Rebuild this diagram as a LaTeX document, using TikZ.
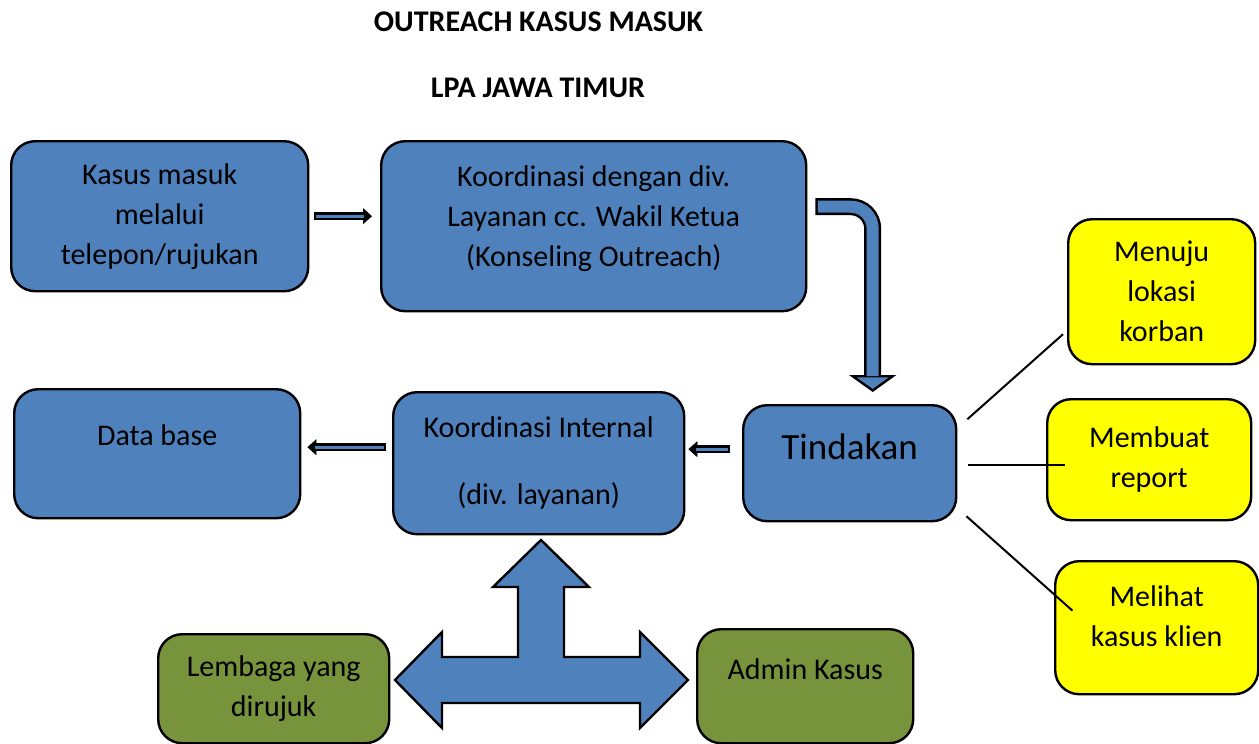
\documentclass[tikz,border=0pt]{standalone}
\usepackage{fontspec}
\setmainfont{Carlito}
\usetikzlibrary{arrows.meta}
\definecolor{boxblue}{HTML}{4F81BD}
\definecolor{boxgreen}{HTML}{77933C}
\definecolor{boxyellow}{HTML}{FFFF00}

\begin{document}
\begin{tikzpicture}[
  x=0.5pt, y=-0.5pt,
  box/.style={draw,line width=1.2pt,rounded corners=12pt,align=center,
              anchor=north west,inner sep=4pt,font=\fontsize{15}{20}\selectfont},
  bluebox/.style={box,fill=boxblue},
  greenbox/.style={box,fill=boxgreen},
  yellowbox/.style={box,fill=boxyellow},
  heading/.style={font=\bfseries\fontsize{15}{18}\selectfont},
  thinarrow/.style={draw=black,line width=3.8pt,
              -{Triangle[length=4.5pt,width=8pt,line width=0.4pt]},
              postaction={draw=boxblue,line width=1.6pt,-,shorten <=1pt,shorten >=4pt}},
  bentarrow/.style={draw=black,line width=8.5pt,rounded corners=11pt,
              -{Triangle[length=8.5pt,width=23.5pt,fill=boxblue,line width=1.2pt]},
              postaction={draw=boxblue,line width=6pt,-,shorten <=1.2pt,shorten >=8pt}},
  bigarrow/.style={draw,fill=boxblue,line width=1.2pt,line join=miter},
  link/.style={draw,line width=1pt}
]
  \useasboundingbox (0,0) rectangle (1259,744);

  \node[heading] (judul) at (538.5,22) {OUTREACH KASUS MASUK};
  \node[heading] (lpa) at (538,88) {LPA JAWA TIMUR};

  \node[bluebox,minimum width=148.5pt,minimum height=75pt] (kasus) at (10,140)
    {Kasus masuk\\melalui\\telepon/rujukan};
  \node[bluebox,minimum width=212.5pt,minimum height=85pt,text depth=10pt] (koord) at (380,140)
    {Koordinasi dengan div.\\Layanan cc. Wakil Ketua\\(Konseling Outreach)};
  \node[bluebox,minimum width=143pt,text height=24pt,text depth=32.5pt] (db) at (13,388)
    {Data base};
  \node[bluebox,minimum width=145.5pt,minimum height=71pt] (intern) at (392,391)
    {Koordinasi Internal\\[13.5pt](div. layanan)};
  \node[bluebox,minimum width=106.5pt,text height=23pt,text depth=27pt,
        font=\fontsize{18.5}{22}\selectfont] (tindak) at (742,404) {Tindakan};

  \node[yellowbox,minimum width=93.5pt,minimum height=72.5pt] (lokasi) at (1067,218)
    {Menuju\\lokasi\\korban};
  \node[yellowbox,minimum width=102pt,minimum height=60.5pt] (report) at (1046,398)
    {Membuat\\report};
  \node[yellowbox,minimum width=101.5pt,minimum height=66.5pt,text depth=12pt] (klien) at (1054,560)
    {Melihat\\kasus klien};

  \node[greenbox,minimum width=115.5pt,minimum height=54.5pt] (lembaga) at (157,633)
    {Lembaga yang\\dirujuk};
  \node[greenbox,minimum width=108pt,text height=21pt,text depth=28pt] (admin) at (696,628)
    {Admin Kasus};

  % block arrows
  \draw[thinarrow] ([xshift=2.5pt]kasus.east) -- ([xshift=-4pt]kasus.east -| koord.west);
  \draw[bentarrow] ([xshift=4pt,yshift=9.75pt]koord.east) -| ([xshift=11.5pt,yshift=6pt]tindak.north);
  \draw[thinarrow] ([xshift=-6pt,yshift=7pt]tindak.west) -- ([xshift=1.5pt,yshift=7pt]intern.east);
  \draw[thinarrow] ([xshift=-3pt,yshift=8pt]intern.west) -- ([xshift=3pt,yshift=8pt]intern.west -| db.east);

  % three-way arrow
  \draw[bigarrow] (541,540) -- (589,587) -- (564,587) -- (564,657) -- (640,657) -- (640,632)
    -- (688,680) -- (640,728) -- (640,703) -- (442,703) -- (442,728) -- (395,680)
    -- (442,632) -- (442,657) -- (518,657) -- (518,587) -- (493,587) -- cycle;

  % lines to the actions
  \draw[link] ([xshift=5pt,yshift=22pt]tindak.east) -- ([xshift=-2pt,yshift=-21.25pt]lokasi.west);
  \draw[link] ([xshift=5.5pt,yshift=-1pt]tindak.east) -- ([xshift=9.5pt,yshift=-2.75pt]report.west);
  \draw[link] ([xshift=4.5pt,yshift=-26.5pt]tindak.east) -- ([xshift=9.25pt,yshift=8.5pt]klien.west);
\end{tikzpicture}
\end{document}
